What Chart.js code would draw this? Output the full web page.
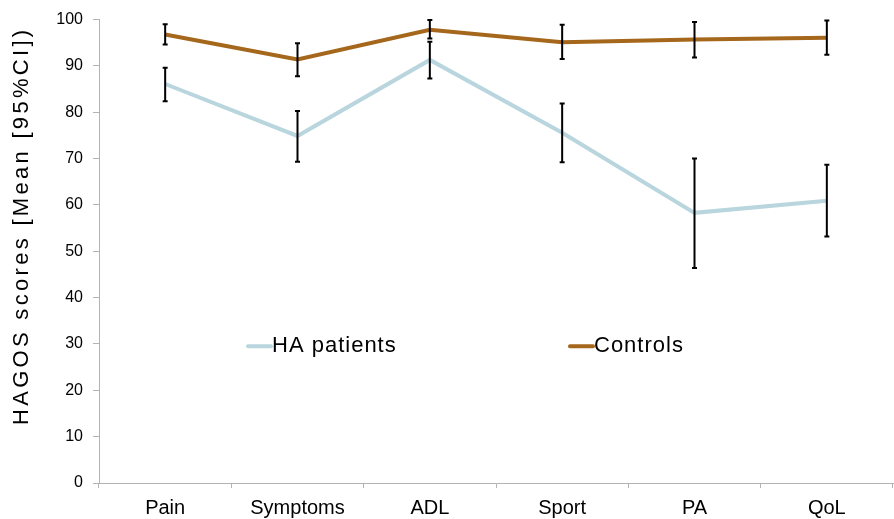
<!DOCTYPE html>
<html>
<head>
<meta charset="utf-8">
<script src="https://cdn.jsdelivr.net/npm/chart.js@4"></script>
<style>
  html, body { margin: 0; padding: 0; background: #fff; }
  #wrap { width: 894px; height: 519px; }
</style>
</head>
<body>
<div id="wrap"><canvas id="myChart" width="894" height="519"></canvas></div>
<script>
// Данные
const categories = ['Pain', 'Symptoms', 'ADL', 'Sport', 'PA', 'QoL'];
const haMean = [86.1, 74.9, 91.3, 75.6, 58.3, 60.9];
const haLow = [82.4, 69.3, 87.3, 69.2, 46.4, 53.2];
const haHigh = [89.6, 80.3, 95.2, 81.9, 70.0, 68.7];
const ctrlMean = [96.8, 91.4, 97.8, 95.1, 95.7, 96.1];
const ctrlLow = [94.6, 87.8, 95.9, 91.5, 91.8, 92.4];
const ctrlHigh = [99.0, 94.9, 99.9, 98.9, 99.5, 99.8];
const yTicks = [0, 10, 20, 30, 40, 50, 60, 70, 80, 90, 100];
const yTitle = 'HAGOS scores [Mean [95%CI])';

const FONT = '"Liberation Sans", Arial, Helvetica, sans-serif';
const haColor = '#b9d5dd';
const ctrlColor = '#a5671c';

// Планки погрешностей (95% ДИ)
const errorBars = {
    id: 'errorBars',
    afterDatasetsDraw(chart) {
        const ctx = chart.ctx;
        const x = chart.scales.x;
        const y = chart.scales.y;
        const sets = [[haLow, haHigh], [ctrlLow, ctrlHigh]];
        ctx.save();
        ctx.strokeStyle = '#000';
        ctx.lineWidth = 2;
        sets.forEach(function(s) {
            categories.forEach(function(c, i) {
                const px = x.getPixelForValue(i);
                const lo = y.getPixelForValue(s[0][i]);
                const hi = y.getPixelForValue(s[1][i]);
                ctx.beginPath();
                ctx.moveTo(px, lo); ctx.lineTo(px, hi);
                ctx.moveTo(px - 2.5, lo); ctx.lineTo(px + 2.5, lo);
                ctx.moveTo(px - 2.5, hi); ctx.lineTo(px + 2.5, hi);
                ctx.stroke();
            });
        });
        ctx.restore();
    }
};

// Легенда внутри области графика и подпись оси Y
const innerLegend = {
    id: 'innerLegend',
    afterDraw(chart) {
        const ctx = chart.ctx;
        const a = chart.chartArea;
        const yy = a.top + (a.bottom - a.top) * 0.705;
        const items = [
            { text: 'HA patients', color: haColor, x: a.left + 149 },
            { text: 'Controls', color: ctrlColor, x: a.left + 471 }
        ];
        ctx.save();
        ctx.font = '22px ' + FONT;
        ctx.letterSpacing = '1px';
        ctx.textBaseline = 'middle';
        items.forEach(function(it) {
            ctx.strokeStyle = it.color;
            ctx.lineWidth = 4;
            ctx.lineCap = 'round';
            ctx.beginPath();
            ctx.moveTo(it.x, yy); ctx.lineTo(it.x + 23, yy);
            ctx.stroke();
            ctx.fillStyle = '#000';
            ctx.fillText(it.text, it.x + 24, yy);
        });
        ctx.restore();

        // подпись оси Y
        ctx.save();
        ctx.translate(22, a.bottom - 58);
        ctx.rotate(-Math.PI / 2);
        ctx.font = '22px ' + FONT;
        ctx.letterSpacing = '3.3px';
        ctx.textAlign = 'left';
        ctx.textBaseline = 'middle';
        ctx.fillStyle = '#000';
        ctx.fillText(yTitle, 0, 0);
        ctx.restore();
    }
};

const ctx = document.getElementById('myChart').getContext('2d');
const myChart = new Chart(ctx, {
    type: 'line',
    data: {
        labels: categories,
        datasets: [{
            label: 'HA patients',
            data: haMean,
            borderColor: haColor,
            borderWidth: 4,
            pointRadius: 0,
            tension: 0
        }, {
            label: 'Controls',
            data: ctrlMean,
            borderColor: ctrlColor,
            borderWidth: 4,
            pointRadius: 0,
            tension: 0
        }]
    },
    options: {
        responsive: false,
        animation: false,
        layout: { padding: { top: 15, right: 1, left: 0, bottom: 0 } },
        plugins: {
            legend: { display: false },
            tooltip: { enabled: false }
        },
        scales: {
            x: {
                offset: true,
                grid: { offset: true, drawOnChartArea: false, drawTicks: true, tickLength: 5, color: '#b3b3b3' },
                border: { color: '#b3b3b3', width: 1 },
                ticks: { color: '#000', font: { family: FONT, size: 20 }, padding: 8, maxRotation: 0 },
                afterFit(scale) { scale.height = 36; }
            },
            y: {
                min: 0,
                max: 100,
                afterBuildTicks(scale) { scale.ticks = yTicks.map(v => ({ value: v })); },
                grid: { drawOnChartArea: false, drawTicks: true, tickLength: 6, color: '#b3b3b3' },
                border: { color: '#b3b3b3', width: 1 },
                ticks: { color: '#000', font: { family: FONT, size: 16 }, padding: 10 },
                afterFit(scale) { scale.width = 99; }
            }
        }
    },
    plugins: [errorBars, innerLegend]
});
</script>
</body>
</html>
